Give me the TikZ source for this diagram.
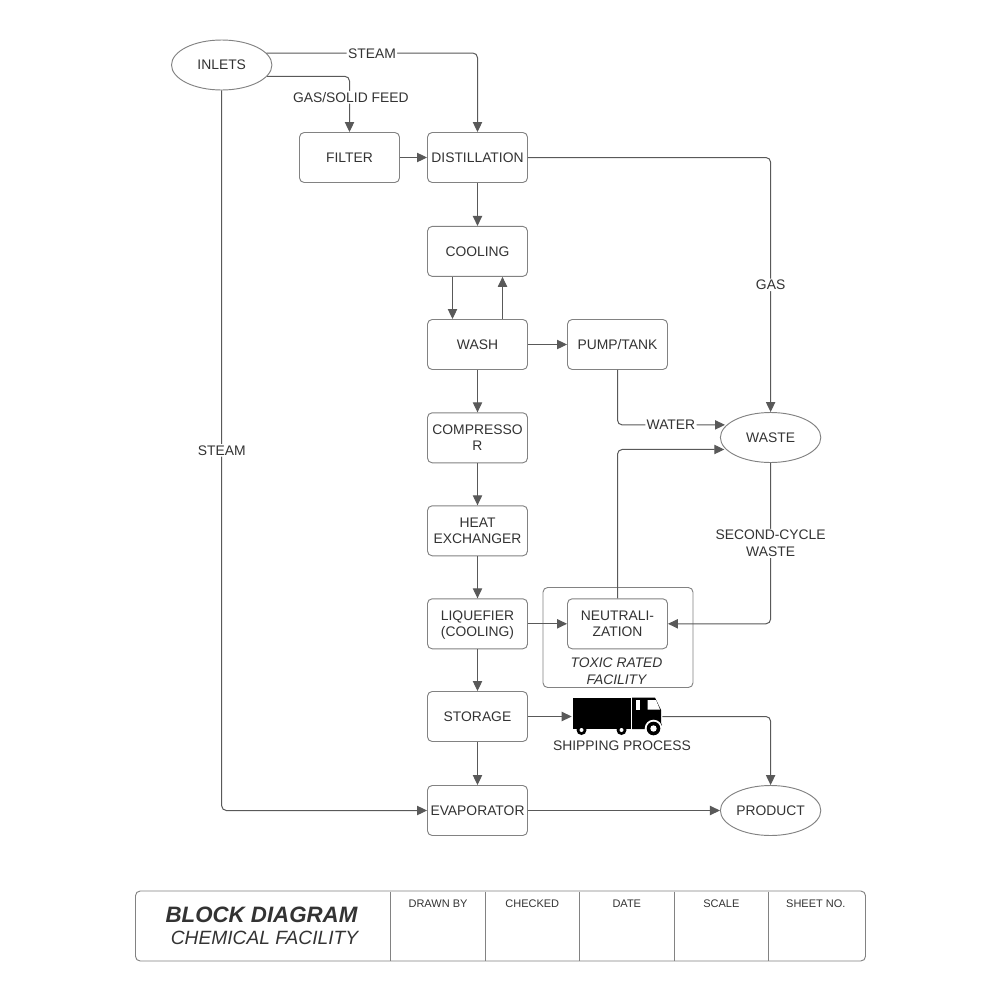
\documentclass[tikz,border=0pt]{standalone}
\usepackage{fontspec}
\setmainfont{Liberation Sans}
\usetikzlibrary{shapes.geometric,arrows.meta}
\definecolor{ink}{HTML}{333333}
\definecolor{edge}{HTML}{595959}
\definecolor{bord}{HTML}{828282}
\tikzset{
 x=0.75pt,y=-0.75pt,
 lab/.style={font=\fontsize{10.4pt}{12.4pt}\selectfont,text=ink,align=center,inner sep=0pt},
 blk/.style={lab,draw=bord,line width=0.7pt,rounded corners=3.5pt,minimum width=75pt,minimum height=37.5pt,fill=white},
 oval/.style={lab,draw=bord,line width=0.7pt,ellipse,minimum width=75.3pt,minimum height=37.5pt,fill=white},
 flow/.style={draw=edge,line width=0.75pt,rounded corners=3.5pt,-{Triangle[length=7.5pt,width=7pt,fill=edge]}},
 tag/.style={lab,fill=white,inner xsep=1pt,inner ysep=1pt},
 cell/.style={draw=bord,line width=0.7pt},
 head/.style={lab,font=\fontsize{8.25pt}{10pt}\selectfont,anchor=center},
}
\begin{document}
\begin{tikzpicture}
\useasboundingbox (0,0) rectangle (1000,1000);
\fill[white] (0,0) rectangle (1000,1000);
% toxic facility frame
\node[blk,minimum width=112.5pt,minimum height=75pt] (toxic) at (618,637.5) {};
\node[lab,font=\fontsize{10.4pt}{12.6pt}\selectfont\itshape] (toxiclab) at (616.5,671.2) {TOXIC RATED\\FACILITY};
% blocks
\node[oval] (inlets) at (221.7,65) {INLETS};
\node[blk] (filter) at (349.5,157.5) {FILTER};
\node[blk] (dist) at (477.5,157.5) {DISTILLATION};
\node[blk] (cool) at (477.5,251.4) {COOLING};
\node[blk] (wash) at (477.5,344.5) {WASH};
\node[blk] (pump) at (617.5,344.5) {PUMP/TANK};
\node[blk] (comp) at (477.5,437.8) {COMPRESSO\\R};
\node[blk] (heat) at (477.5,530.8) {HEAT\\EXCHANGER};
\node[blk] (liq) at (477.5,623.8) {LIQUEFIER\\\smash{(COOLING)}};
\node[blk] (neut) at (617.5,623.8) {NEUTRALI-\\ZATION};
\node[blk] (stor) at (477.5,716.5) {STORAGE};
\node[blk] (evap) at (477.5,810.5) {EVAPORATOR};
\node[oval] (waste) at (770.6,437.5) {WASTE};
\node[oval] (prod) at (770.6,810.5) {PRODUCT};
% truck
\node[minimum width=67.5pt,minimum height=24pt,inner sep=0pt] (truck) at (617,716.5) {};
\fill[black] (572.5,697.5) rectangle (631,729);
\fill[black] (632,697.5) -- (655,697.5) -- (661,710) -- (661,723) -- (662,725) -- (661,729) -- (632,729) -- cycle;
\fill[white] (635.5,700) rectangle (640,709.5);
\fill[white] (647.5,700) -- (656,700) -- (660,709.5) -- (647.5,709.5) -- cycle;
\fill[white] (653.5,728.5) circle[radius=6.6pt];
\foreach \wx/\wy/\ro/\ri in {581.5/730/5/2,621.5/730/5/2,653.5/728.5/6.8/3.2}{
 \fill[black] (\wx,\wy) circle[radius=\ro*0.75pt];
 \fill[white] (\wx,\wy) circle[radius=\ri*0.75pt];
}
\node[lab] (shiplab) at (622,745.6) {SHIPPING PROCESS};
% connectors
\draw[flow] (inlets.15) -| node[tag,pos=.25,yshift=-0.5pt] {STEAM} (dist.north);
\draw[flow] (inlets.-14) -| node[tag,pos=.6875,xshift=1pt] {GAS/SOLID FEED} (filter.north);
\draw[flow] (inlets.south) |- node[tag,pos=.25] {STEAM} (evap.west);
\draw[flow] (filter) -- (dist);
\draw[flow] (dist.east) -| node[tag,pos=.75] {GAS} (waste.north);
\draw[flow] (dist) -- (cool);
\draw[flow] ([xshift=-18.75pt]cool.south) -- ([xshift=-18.75pt]wash.north);
\draw[flow] ([xshift=18.75pt]wash.north) -- ([xshift=18.75pt]cool.south);
\draw[flow] (wash) -- (pump);
\draw[flow] (wash) -- (comp);
\draw[flow] (comp) -- (heat);
\draw[flow] (heat) -- (liq);
\draw[flow] (liq) -- (neut);
\draw[flow] (liq) -- (stor);
\draw[flow] (stor) -- (evap);
\draw[flow] (stor) -- (truck);
\draw[flow] (truck.east) -| (prod.north);
\draw[flow] (evap) -- (prod);
\draw[flow,shorten >=1.2pt] (pump.south) |- node[tag,pos=.745] {WATER} (waste.164);
\draw[flow,shorten >=1.2pt] (neut.north) |- (waste.195);
\draw[flow] (waste.south) |- node[tag,pos=.25] {SECOND-CYCLE\\WASTE} (neut.east);
% title block
\node[blk,minimum width=547.5pt,minimum height=52.5pt,fill=none] (block) at (500.5,926) {};
\foreach \cx/\cn/\ct in {390.7/a/DRAWN BY,485/b/CHECKED,579.5/c/DATE,674/d/SCALE,768.5/e/SHEET NO.}{
 \coordinate (t\cn) at (\cx,891.5);
 \coordinate (u\cn) at (\cx,960.5);
 \draw[cell] (t\cn) -- (u\cn);
 \node[head] (h\cn) at (\cx+47.3,904) {\ct};
}
\node[lab,font=\fontsize{16.7pt}{20pt}\selectfont\bfseries\itshape] (t1) at (261.5,914.5) {BLOCK DIAGRAM};
\node[lab,font=\fontsize{14.4pt}{18pt}\selectfont\itshape] (t2) at (264.5,937.5) {CHEMICAL FACILITY};
\end{tikzpicture}
\end{document}
